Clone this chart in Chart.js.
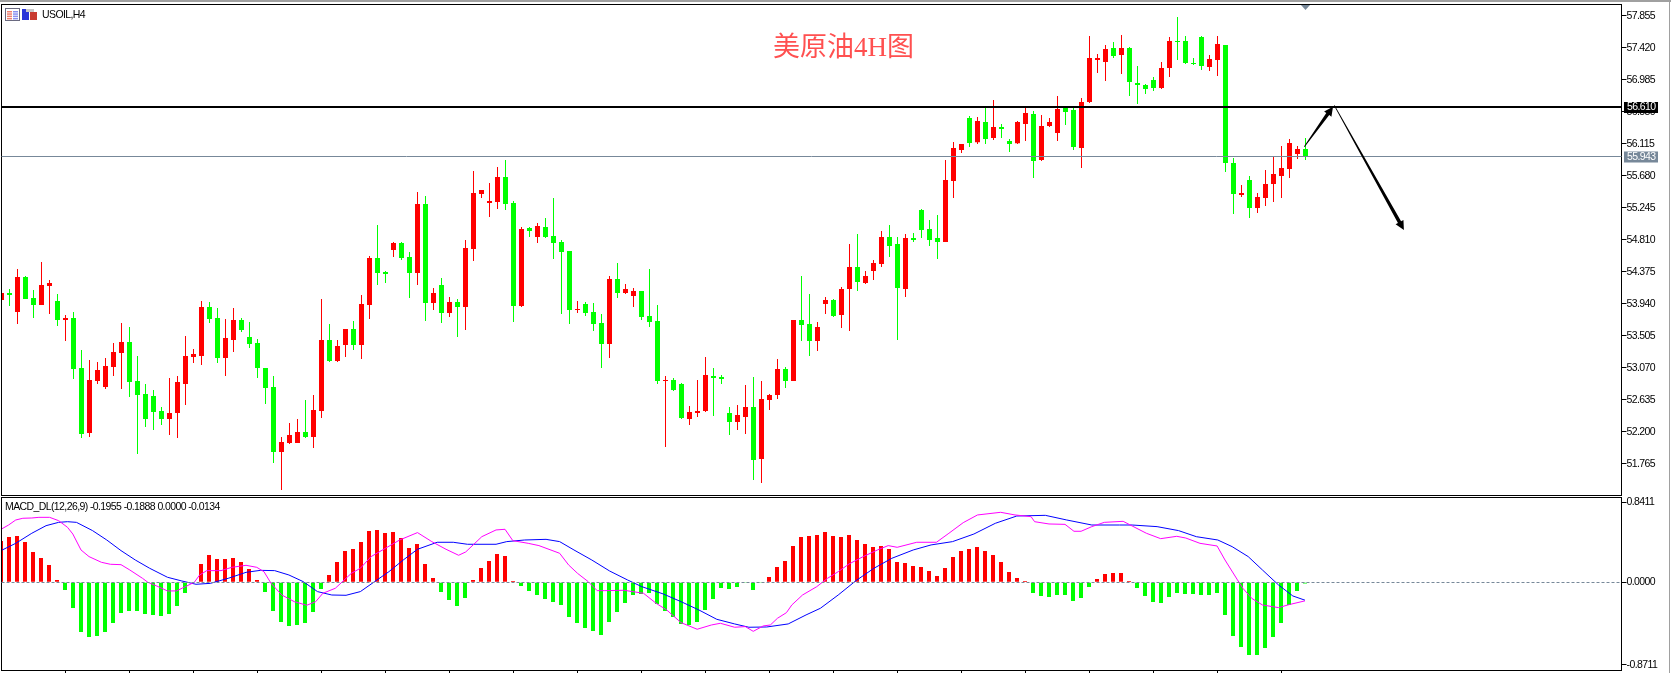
<!DOCTYPE html>
<html lang="en">
<head>
    <meta charset="UTF-8">
    <title>USOIL,H4</title>
    <script src="https://cdn.jsdelivr.net/npm/chart.js"></script>
</head>
<style>
    body {
    margin: 0;
    background-color: #fff;
}

#priceChart {
    position: absolute;
    left: 0;
    top: 0;
}

#macdChart {
    position: absolute;
    left: 0;
    top: 496px;
}

.edge {
    position: absolute;
    background-color: #a0a0a0;
}
</style>
<body>
    <canvas id="priceChart" width="1671" height="496"></canvas>
    <canvas id="macdChart" width="1671" height="177"></canvas>
    <div class="edge" style="left:0;top:0;width:1671px;height:2px"></div>
    <div class="edge" style="left:1669px;top:0;width:1px;height:673px"></div>
    <script>
const opens = [
    53.990,54.085,53.827,54.303,54.017,53.922,54.180,53.976,53.717,53.744,
    53.065,52.182,52.888,52.807,53.079,53.269,53.418,52.888,52.712,52.684,
    52.481,52.372,52.453,52.848,53.215,53.228,53.894,53.744,53.201,53.446,
    53.717,53.487,53.405,53.065,52.807,51.923,52.046,52.046,52.195,52.127,
    52.481,53.446,53.160,53.378,53.595,53.378,53.922,54.561,54.370,54.669,
    54.765,54.574,54.357,55.295,53.949,54.194,53.813,53.963,53.894,54.683,
    55.431,55.308,55.322,55.662,55.308,53.908,54.968,54.846,54.982,54.860,
    54.778,54.656,53.854,53.936,53.827,53.677,53.392,54.275,54.085,54.044,
    54.112,53.772,53.704,52.888,52.902,52.848,52.372,52.453,52.481,52.957,
    52.943,52.453,52.331,52.399,52.535,51.828,52.630,52.698,53.051,52.888,
    53.717,53.663,53.432,53.936,53.990,53.786,54.140,54.438,54.221,54.384,
    54.479,54.846,54.751,54.140,54.832,55.213,54.955,54.832,54.778,55.607,
    56.029,56.464,56.133,56.409,56.192,56.341,56.151,56.119,56.382,56.518,
    55.893,56.355,56.260,56.600,56.573,56.056,56.681,57.252,57.225,57.415,
    57.320,57.415,56.940,56.912,56.980,56.872,57.144,57.511,57.511,57.212,
    57.565,57.157,57.252,57.456,55.852,55.417,55.621,55.240,55.376,55.567,
    55.675,55.771,55.974,56.042
];
const highs = [
    54.085,54.140,54.411,54.316,54.126,54.506,54.262,54.072,53.786,53.827,
    53.309,53.174,53.147,53.201,53.405,53.677,53.622,53.228,52.848,52.766,
    52.535,52.929,52.957,53.500,53.323,53.976,53.963,53.881,53.731,53.881,
    53.744,53.690,53.459,53.065,52.957,52.127,52.317,52.372,52.630,52.698,
    54.004,53.663,53.446,53.595,53.704,54.058,54.588,55.009,54.384,54.778,
    54.778,54.642,55.458,55.403,54.153,54.289,54.030,54.004,54.805,55.743,
    55.485,55.580,55.798,55.893,55.335,54.982,54.982,55.036,55.104,55.376,
    54.805,54.656,53.976,53.963,53.949,53.800,54.316,54.493,54.207,54.153,
    54.112,54.411,53.922,52.957,52.929,52.861,52.548,52.902,53.215,53.065,
    52.970,52.535,52.562,52.834,52.943,52.888,52.712,53.188,53.079,53.717,
    54.316,54.072,53.690,54.030,54.004,54.166,54.751,54.887,54.384,54.533,
    54.928,55.009,54.846,54.887,54.901,55.227,55.077,55.145,55.893,56.138,
    56.110,56.491,56.477,56.613,56.709,56.382,56.178,56.423,56.613,56.559,
    56.505,56.464,56.763,56.613,56.613,56.736,57.579,57.334,57.456,57.497,
    57.592,57.429,57.171,56.926,57.021,57.225,57.565,57.837,57.579,57.280,
    57.579,57.320,57.579,57.456,55.920,55.553,55.675,55.444,55.757,55.947,
    56.083,56.178,56.083,56.192
];
const lows = [
    53.990,53.908,53.663,54.004,53.744,53.922,53.800,53.636,53.432,52.915,
    52.113,52.127,52.848,52.780,52.957,52.780,52.671,51.896,52.263,52.222,
    52.290,52.154,52.113,52.562,53.133,53.106,53.677,53.133,52.957,53.283,
    53.554,53.337,52.929,52.576,51.773,51.407,52.032,52.046,52.113,51.978,
    52.385,53.147,53.147,53.215,53.309,53.188,53.731,54.194,54.221,54.574,
    54.533,54.017,54.194,53.704,53.854,53.677,53.758,53.487,53.582,54.520,
    55.376,55.118,55.227,55.213,53.690,53.894,54.846,54.765,54.832,54.547,
    53.800,53.663,53.813,53.772,53.568,53.065,53.201,54.017,54.072,53.894,
    53.717,53.622,52.848,51.991,52.752,52.372,52.290,52.399,52.467,52.413,
    52.848,52.154,52.222,52.168,51.543,51.502,52.494,52.644,52.793,52.888,
    53.432,53.228,53.296,53.800,53.758,53.609,53.568,54.112,54.207,54.262,
    54.438,54.574,53.446,54.030,54.778,54.832,54.724,54.547,54.778,55.376,
    55.988,56.070,56.110,56.110,56.165,56.192,56.002,56.110,56.151,55.648,
    55.879,56.341,56.151,56.369,56.029,55.784,56.668,57.076,56.967,57.280,
    57.062,56.763,56.654,56.790,56.831,56.858,57.021,57.252,57.198,57.184,
    57.116,57.103,57.035,55.730,55.159,55.390,55.104,55.172,55.268,55.322,
    55.376,55.648,55.906,55.893
];
const closes = [
    54.085,54.058,54.303,54.004,53.922,54.194,54.221,53.717,53.744,53.051,
    52.168,52.902,53.038,53.092,53.283,53.418,52.875,52.698,52.372,52.467,
    52.372,52.453,52.875,53.228,53.256,53.894,53.731,53.201,53.473,53.717,
    53.582,53.392,53.065,52.793,51.923,52.059,52.154,52.195,52.127,52.494,
    53.446,53.160,53.364,53.595,53.378,53.936,54.561,54.357,54.343,54.765,
    54.561,54.357,55.295,53.949,54.085,53.813,53.963,53.894,54.697,55.444,
    55.485,55.335,55.662,55.295,53.908,54.955,54.928,54.996,54.846,54.765,
    54.642,53.854,53.867,53.813,53.663,53.392,54.275,54.085,54.140,54.112,
    53.758,53.690,52.888,52.902,52.766,52.385,52.467,52.481,52.970,52.929,
    52.915,52.331,52.426,52.535,51.815,52.644,52.698,53.051,52.888,53.717,
    53.650,53.432,53.622,53.990,53.772,54.140,54.438,54.235,54.316,54.493,
    54.846,54.724,54.153,54.832,54.805,54.941,54.805,54.778,55.621,56.056,
    56.110,56.124,56.423,56.178,56.341,56.314,56.110,56.409,56.532,55.879,
    56.355,56.409,56.586,56.545,56.070,56.681,57.280,57.280,57.402,57.307,
    57.415,56.953,56.912,56.858,56.872,57.144,57.511,57.497,57.212,57.198,
    57.171,57.266,57.470,55.852,55.431,55.444,55.240,55.390,55.567,55.703,
    55.784,56.124,56.042,55.943
];
const histogram = [
    .436,.478,.488,.425,.320,.256,.183,.025,-.081,-.271,
    -.524,-.576,-.566,-.524,-.429,-.323,-.302,-.302,-.334,-.344,
    -.355,-.334,-.249,-.112,0,.193,.288,.246,.246,.256,
    .214,.141,.025,-.102,-.302,-.418,-.460,-.450,-.429,-.313,
    -.070,.077,.214,.330,.351,.425,.541,.552,.520,.531,
    .467,.362,.404,.193,.046,-.102,-.186,-.249,-.165,.025,
    .151,.225,.299,.278,.014,-.039,-.091,-.134,-.176,-.207,
    -.239,-.365,-.429,-.481,-.513,-.555,-.418,-.313,-.218,-.134,
    -.123,-.112,-.228,-.302,-.365,-.439,-.450,-.418,-.292,-.176,
    -.060,-.070,-.049,-.007,-.081,-.007,.056,.162,.225,.383,
    .478,.488,.499,.531,.488,.478,.499,.446,.404,.372,
    .383,.351,.214,.204,.172,.162,.119,.067,.151,.267,
    .330,.351,.372,.330,.288,.214,.109,.046,.014,-.112,
    -.144,-.155,-.134,-.134,-.197,-.165,-.049,.035,.088,.098,
    .098,.014,-.060,-.144,-.207,-.218,-.155,-.112,-.123,-.123,
    -.134,-.134,-.112,-.344,-.566,-.682,-.766,-.766,-.692,-.576,
    -.429,-.239,-.091,-.0134
];

// MACD and signal are kept as turning points: bar position and value
const macdAt = [
    0,.95,1.84,2.73,3.85,4.74,6.08,7.2,8.31,8.98,10,11,12.55,13.67,15,16.1,17.69,18.36,19.47,20.81,
    21.93,23.04,24.16,24.83,25.72,27.5,28.85,30.63,31.97,32.87,33.76,35.1,36.66,38.22,39.34,40.23,41.79,43.8,44.92,46.26,
    48.04,49.83,52.06,53.85,55.63,57.2,58.09,60.1,61.88,63,63.98,65.9,67.24,69.83,70.95,72.06,73.4,74.52,75.41,77.87,
    80.32,81.88,83.22,85,87.02,88.8,89.92,91.71,93.04,94.03,95.28,96.17,97.06,98.18,98.85,100.19,101.97,103.31,104.65,106,
    107.78,109.56,110.9,112.02,114.47,116.93,118.49,120.28,122.06,124.96,126.75,128.76,129.2,131,133,134.12,135.01,136.35,137.91,140.27,
    141.39,143.17,144.96,146.97,148.09,149.87,152.01,153,154.56,155.23,156.34,157.68,159.69,161.03,163
];
const macdVals = [
    .559,.604,.657,.675,.678,.685,.685,.650,.580,.509,.341,.271,.211,.190,.186,.130,.042,0,-.039,-.091,
    -.091,-.046,0,.077,.123,.123,.158,.179,.158,.112,-.011,-.134,-.204,-.242,-.204,-.116,-.063,.095,.148,.271,
    .358,.446,.524,.429,.348,.285,.320,.481,.552,.559,.439,.411,.387,.306,.183,.095,.007,-.088,-.088,-.084,
    -.116,-.221,-.292,-.425,-.495,-.450,-.432,-.474,-.467,-.517,-.460,-.450,-.379,-.320,-.239,-.134,-.046,.042,.112,.193,
    .271,.341,.387,.369,.422,.422,.517,.629,.710,.738,.710,.692,.639,.615,.611,.538,.538,.587,.632,.643,
    .594,.517,.460,.485,.467,.411,.383,.235,.025,-.063,-.169,-.239,-.267,-.235,-.1955
];
const signalAt = [
    0,1.84,3.85,5.63,7.2,8.31,9.43,11.44,13.22,15,16.79,18.58,20.81,22.6,24.38,26.17,28.4,30.63,32.42,34.21,
    35.99,37.78,39.56,41.35,43.13,44.92,46.7,48.49,50.28,52.06,54.52,56.53,58.31,61.88,63.22,65.46,68.13,69.83,71.62,73.85,
    76.08,78.31,80.1,82.78,85,87.24,89.47,91.71,93.49,95.72,98.4,100.63,102.42,104.65,106.88,109.12,111.35,114.03,116.26,118.94,
    121.61,124.29,126.97,130.54,133.22,136.35,139.83,141.39,144.51,147.19,149.42,152.1,153.89,155.9,157.68,159.69,161.48,163
];
const signalVals = [
    .334,.411,.517,.597,.632,.639,.632,.545,.446,.334,.235,.148,.053,.014,-.021,-.011,.042,.105,.126,.123,
    .077,.007,-.098,-.134,-.137,-.098,.007,.112,.235,.348,.422,.422,.401,.401,.429,.446,.453,.429,.341,.235,
    .119,.025,-.046,-.123,-.204,-.292,-.390,-.439,-.474,-.471,-.439,-.344,-.274,-.134,.018,.148,.253,.341,.394,.429,
    .509,.622,.699,.706,.657,.604,.604,.604,.587,.545,.481,.446,.376,.271,.130,-.028,-.144,-.1888
];

const priceTicks = [57.855,57.420,56.985,56.550,56.115,55.680,55.245,54.810,54.375,53.940,53.505,53.070,52.635,52.200,51.765];
const macdTicks = [0.8411,0,-0.8711];
const timeTicks = [8,16,24,32,40,48,56,64,72,80,88,96,104,112,120,128,136,144,152,160];
const resistance = 56.610;
const lastPrice = 55.943;
const upArrow = {fromBar: 162.85, fromPrice: 56.074, toBar: 166.44, toPrice: 56.617};
const downArrow = {fromBar: 166.6, fromPrice: 56.636, toBar: 175.3, toPrice: 54.941};

const RED = '#ff0000';
const GREEN = '#00ff00';
const SLATE = '#778899';
const BARS_WIDE = 202.5;
const axisFont = {family: '"Liberation Sans", sans-serif', size: 10.5};
const fontStr = axisFont.size + 'px ' + axisFont.family;

const candleColors = closes.map((c, i) => c >= opens[i] ? RED : GREEN);
const histColors = histogram.map(v => v >= 0 ? RED : GREEN);

function frame(ctx, area) {
    ctx.strokeStyle = '#000';
    ctx.lineWidth = 1;
    ctx.strokeRect(area.left, area.top - 0.5, area.right - area.left, area.bottom - area.top + 1);
}

function priceTag(ctx, y, text, bg) {
    ctx.fillStyle = bg;
    ctx.fillRect(1624, y - 5, 34, 11);
    ctx.fillStyle = '#fff';
    ctx.font = fontStr;
    ctx.textAlign = 'left';
    ctx.textBaseline = 'middle';
    ctx.fillText(text, 1627, y + 0.5);
}

// thin at the tail, thick towards the head
function drawArrow(chart, a) {
    const ctx = chart.ctx;
    const x0 = chart.scales.x.getPixelForValue(a.fromBar);
    const y0 = chart.scales.y.getPixelForValue(a.fromPrice);
    const x1 = chart.scales.x.getPixelForValue(a.toBar);
    const y1 = chart.scales.y.getPixelForValue(a.toPrice);
    const len = Math.hypot(x1 - x0, y1 - y0);
    const ux = (x1 - x0) / len, uy = (y1 - y0) / len;
    const nx = -uy, ny = ux;
    const bx = x1 - ux * 9, by = y1 - uy * 9;
    ctx.fillStyle = '#000';
    ctx.beginPath();
    ctx.moveTo(x0 + nx * 0.4, y0 + ny * 0.4);
    ctx.lineTo(bx + nx * 1.8, by + ny * 1.8);
    ctx.lineTo(bx + nx * 4.5, by + ny * 4.5);
    ctx.lineTo(x1, y1);
    ctx.lineTo(bx - nx * 4.5, by - ny * 4.5);
    ctx.lineTo(bx - nx * 1.8, by - ny * 1.8);
    ctx.lineTo(x0 - nx * 0.4, y0 - ny * 0.4);
    ctx.closePath();
    ctx.fill();
}

function drawIcons(ctx) {
    ctx.fillStyle = '#fff';
    ctx.fillRect(5, 8, 15, 13);
    ctx.strokeStyle = '#6a6a80';
    ctx.lineWidth = 1;
    ctx.strokeRect(5.5, 8.5, 14, 12);
    for (let r = 0; r < 4; r++) {
        ctx.fillStyle = '#f08070';
        ctx.fillRect(7, 11 + r * 2.3, 5, 1.5);
        ctx.fillStyle = '#8a90f0';
        ctx.fillRect(13, 11 + r * 2.3, 5, 1.5);
    }
    ctx.fillStyle = '#2a35d8';
    ctx.fillRect(22, 9, 7, 11);
    ctx.fillStyle = '#c83a30';
    ctx.fillRect(30, 12, 7, 8);
    ctx.fillStyle = '#c8c8c8';
    ctx.fillRect(26, 9, 8, 3);
}

// tighter spacing for the small axis and legend text, set before the chart draws
const tightText = {
    id: 'tightText',
    beforeDraw(chart) {
        chart.ctx.letterSpacing = '-0.6px';
    }
};

const priceOverlay = {
    id: 'priceOverlay',
    afterDraw(chart) {
        const ctx = chart.ctx;
        const area = chart.chartArea;
        const y = chart.scales.y;
        ctx.save();
        frame(ctx, area);

        ctx.strokeStyle = SLATE;
        ctx.lineWidth = 1;
        const lastY = Math.floor(y.getPixelForValue(lastPrice)) + 0.5;
        ctx.beginPath();
        ctx.moveTo(area.left, lastY);
        ctx.lineTo(area.right, lastY);
        ctx.stroke();

        ctx.strokeStyle = '#000';
        ctx.lineWidth = 2;
        const resY = Math.round(y.getPixelForValue(resistance));
        ctx.beginPath();
        ctx.moveTo(area.left, resY);
        ctx.lineTo(area.right, resY);
        ctx.stroke();

        drawArrow(chart, upArrow);
        drawArrow(chart, downArrow);

        // marker for the current bar on the top edge
        const mx = chart.scales.x.getPixelForValue(163);
        ctx.fillStyle = SLATE;
        ctx.beginPath();
        ctx.moveTo(mx - 4.5, 5);
        ctx.lineTo(mx + 4.5, 5);
        ctx.lineTo(mx, 10);
        ctx.closePath();
        ctx.fill();

        priceTag(ctx, resY, resistance.toFixed(3), '#000');
        priceTag(ctx, lastY, lastPrice.toFixed(3), SLATE);

        drawIcons(ctx);
        ctx.fillStyle = '#000';
        ctx.font = fontStr;
        ctx.textAlign = 'left';
        ctx.textBaseline = 'middle';
        ctx.fillText('USOIL,H4', 42, 15);

        ctx.letterSpacing = '0px';
        ctx.fillStyle = '#ff5050';
        ctx.font = '27px "Liberation Serif", "Noto Sans CJK SC", serif';
        ctx.fillText('美原油4H图', 773, 49);
        ctx.restore();
    }
};

const macdOverlay = {
    id: 'macdOverlay',
    afterDraw(chart) {
        const ctx = chart.ctx;
        const area = chart.chartArea;
        ctx.save();
        frame(ctx, area);
        const zeroY = Math.floor(chart.scales.y.getPixelForValue(0)) + 0.5;
        ctx.strokeStyle = SLATE;
        ctx.lineWidth = 1;
        ctx.setLineDash([3, 2]);
        ctx.beginPath();
        ctx.moveTo(area.left, zeroY);
        ctx.lineTo(area.right, zeroY);
        ctx.stroke();
        ctx.setLineDash([]);
        ctx.fillStyle = '#000';
        ctx.font = fontStr;
        ctx.textAlign = 'left';
        ctx.textBaseline = 'middle';
        ctx.fillText('MACD_DL(12,26,9) -0.1955 -0.1888 0.0000 -0.0134', 5, 11);
        ctx.restore();
    }
};

function yAxis(min, max, values, digits) {
    return {
        position: 'right',
        min: min,
        max: max,
        afterBuildTicks: scale => { scale.ticks = values.map(v => ({value: v})); },
        afterFit: scale => {
            scale.width = 49.5;
            // the first and last labels sit well inside the plot
            scale.paddingTop = 0;
            scale.paddingBottom = 0;
        },
        grid: {drawOnChartArea: false, tickLength: 5, tickColor: '#000'},
        border: {color: '#000'},
        ticks: {
            autoSkip: false,
            padding: 0,
            color: '#000',
            font: axisFont,
            callback: v => Number(v).toFixed(digits)
        }
    };
}

new Chart(document.getElementById('priceChart'), {
    type: 'bar',
    data: {
        datasets: [
            {
                // bodies
                data: opens.map((o, i) => ({x: i, y: [o, closes[i]]})),
                backgroundColor: candleColors,
                barThickness: 5,
                grouped: false,
                inflateAmount: 0
            },
            {
                // wicks
                data: highs.map((h, i) => ({x: i, y: [lows[i], h]})),
                backgroundColor: candleColors,
                barThickness: 1,
                grouped: false,
                inflateAmount: 0
            }
        ]
    },
    options: {
        responsive: false,
        animation: false,
        layout: {padding: {left: 1.5, top: 5, right: 0, bottom: 1}},
        plugins: {legend: {display: false}, tooltip: {enabled: false}},
        scales: {
            x: {type: 'linear', display: false, offset: false, min: 0, max: BARS_WIDE},
            y: yAxis(51.3387, 58.0, priceTicks, 3)
        }
    },
    plugins: [tightText, priceOverlay]
});

new Chart(document.getElementById('macdChart'), {
    type: 'bar',
    data: {
        datasets: [
            {
                type: 'line',
                data: macdAt.map((b, i) => ({x: b, y: macdVals[i]})),
                borderColor: '#ff00ff',
                borderWidth: 1,
                pointRadius: 0,
                tension: 0
            },
            {
                type: 'line',
                data: signalAt.map((b, i) => ({x: b, y: signalVals[i]})),
                borderColor: '#0000ff',
                borderWidth: 1,
                pointRadius: 0,
                tension: 0
            },
            {
                data: histogram.map((v, i) => ({x: i, y: v})),
                backgroundColor: histColors,
                barThickness: 4,
                grouped: false,
                inflateAmount: 0
            }
        ]
    },
    options: {
        responsive: false,
        animation: false,
        layout: {padding: {left: 1.5, top: 2, right: 0, bottom: 0}},
        plugins: {legend: {display: false}, tooltip: {enabled: false}},
        scales: {
            x: {
                type: 'linear',
                offset: false,
                min: 0.0625,
                max: 0.0625 + BARS_WIDE,
                afterBuildTicks: scale => { scale.ticks = timeTicks.map(v => ({value: v})); },
                afterFit: scale => {
                    scale.height = 3;
                    scale.paddingLeft = 0;
                    scale.paddingRight = 0;
                },
                grid: {offset: false, drawOnChartArea: false, tickLength: 3, tickColor: '#000'},
                border: {display: false},
                ticks: {display: false}
            },
            y: yAxis(-0.9246, 0.8888, macdTicks, 4)
        }
    },
    plugins: [tightText, macdOverlay]
});
    </script>
</body>
</html>
